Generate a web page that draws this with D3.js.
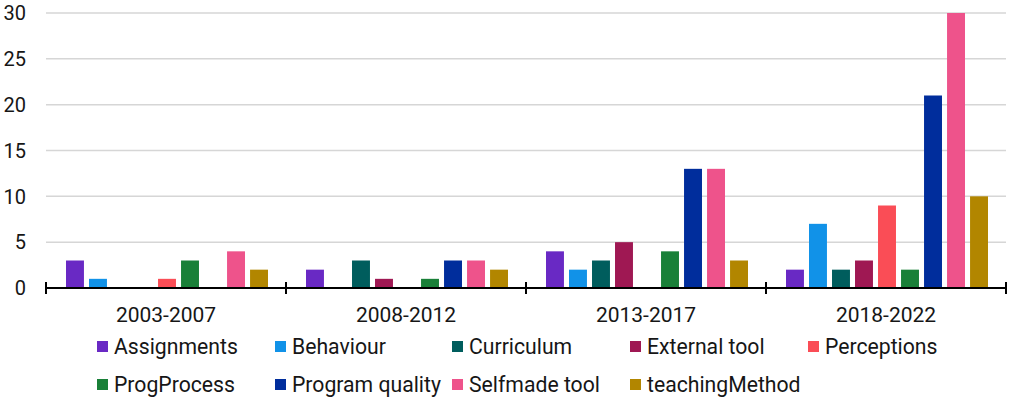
<!DOCTYPE html>
<html><head><meta charset="utf-8">
<script src="https://cdn.jsdelivr.net/npm/d3@7"></script>
<style>body{margin:0;background:#fff;font-family:Roboto,sans-serif}</style>
</head><body><svg id="c" width="1011" height="400"></svg>
<script>
const categories = ["2003-2007","2008-2012","2013-2017","2018-2022"];
const seriesNames = ["Assignments","Behaviour","Curriculum","External tool","Perceptions","ProgProcess","Program quality","Selfmade tool","teachingMethod"];
const colors = ["#6929c4","#1192e8","#005d5d","#9f1853","#fa4d56","#198038","#002d9c","#ee538b","#b28600"];
const Assignments    = [3,2,4,2];
const Behaviour      = [1,0,2,7];
const Curriculum     = [0,3,3,2];
const ExternalTool   = [0,1,5,3];
const Perceptions    = [1,0,0,9];
const ProgProcess    = [3,1,4,2];
const ProgramQuality = [0,3,13,21];
const SelfmadeTool   = [4,3,13,30];
const TeachingMethod = [2,2,3,10];
const yTicks = [0,5,10,15,20,25,30];

(function(){
const values = [Assignments,Behaviour,Curriculum,ExternalTool,Perceptions,ProgProcess,ProgramQuality,SelfmadeTool,TeachingMethod];
const svg = d3.select("#c");
const mL = 46, mR = 1006, mT = 13, mB = 288;
const x0 = d3.scaleBand().domain(categories).range([mL, mR]).padding(0);
const x1 = d3.scaleBand().domain(seriesNames).range([20, 222]).paddingInner(0.22).paddingOuter(0);
const y = d3.scaleLinear().domain([0,30]).range([mB, mT]);

svg.append("g").selectAll("line").data(yTicks.filter(d=>d>0)).join("line")
  .attr("x1", mL).attr("x2", mR)
  .attr("y1", d=>y(d)).attr("y2", d=>y(d))
  .attr("stroke", "#d6d6d6").attr("stroke-width", 1.5);

svg.append("g").selectAll("text").data(yTicks).join("text")
  .attr("x", 26).attr("y", d=>y(d)).attr("dy","0.36em")
  .attr("text-anchor","end").attr("font-size", 20).attr("fill","#161616")
  .text(d=>d);

const g = svg.append("g").selectAll("g").data(categories).join("g")
  .attr("transform", d=>`translate(${x0(d)},0)`);
g.selectAll("rect").data((c,ci)=>seriesNames.map((s,si)=>({s, si, v: values[si][ci]})))
  .join("rect")
  .attr("x", d=>x1(d.s)).attr("width", x1.bandwidth())
  .attr("y", d=>y(d.v)).attr("height", d=>y(0)-y(d.v))
  .attr("fill", d=>colors[d.si]);

const ax = svg.append("g").attr("transform",`translate(0,${mB})`);
ax.append("line").attr("x1",mL).attr("x2",mR).attr("stroke","#000").attr("stroke-width",2);
const bounds = categories.map(c=>x0(c)).concat([mR]);
ax.selectAll("line.t").data(bounds).join("line").attr("class","t")
  .attr("x1",d=>d).attr("x2",d=>d).attr("y1",-6).attr("y2",6)
  .attr("stroke","#000").attr("stroke-width",2);
ax.selectAll("text.l").data(categories).join("text").attr("class","l")
  .attr("x", d=>x0(d)+x0.bandwidth()/2).attr("y", 34)
  .attr("text-anchor","middle").attr("font-size",21).attr("fill","#161616")
  .text(d=>d);

const legX = [97,275,452,630,808];
const leg = svg.append("g").selectAll("g").data(seriesNames).join("g")
  .attr("transform",(d,i)=>`translate(${legX[i%5]},${i<5?341:379})`);
leg.append("rect").attr("width",11).attr("height",11).attr("fill",(d,i)=>colors[i]);
leg.append("text").attr("x",17).attr("y",5.5).attr("dy","0.36em")
  .attr("font-size",21.2).attr("fill","#161616").text(d=>d);
})();
</script></body></html>
